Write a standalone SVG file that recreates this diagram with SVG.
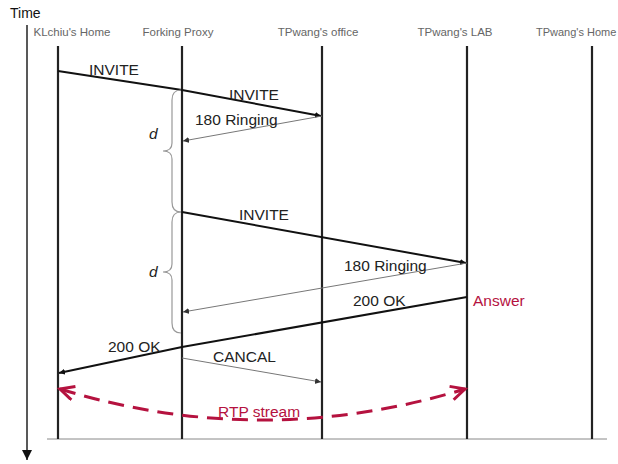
<svg xmlns="http://www.w3.org/2000/svg" width="618" height="464" viewBox="0 0 618 464">
<style>
.hdr{font-family:"Liberation Sans",Arial,sans-serif;font-size:11.5px;fill:#666}
.lbl{font-family:"Liberation Sans",Arial,sans-serif;font-size:15.5px;fill:#222}
.red{fill:#b5123f}
.life{stroke:#222;stroke-width:2.2}
.thick{stroke:#111;stroke-width:2;fill:none}
.thin{stroke:#777;stroke-width:1;fill:none}
.brace{stroke:#999;stroke-width:1.2;fill:none}
</style>
<defs>
<marker id="ah" markerUnits="userSpaceOnUse" markerWidth="8" markerHeight="8" refX="6" refY="3" orient="auto"><path d="M0,0 L6,3 L0,6 z" fill="#111"/></marker>
<marker id="ahs" markerUnits="userSpaceOnUse" markerWidth="8" markerHeight="8" refX="6" refY="3" orient="auto"><path d="M0,0 L6,3 L0,6 z" fill="#333"/></marker>
<marker id="ta" markerUnits="userSpaceOnUse" markerWidth="12" markerHeight="12" refX="10" refY="5" orient="auto"><path d="M0,0 L10,5 L0,10 z" fill="#111"/></marker>
<marker id="rtp" markerUnits="userSpaceOnUse" markerWidth="20" markerHeight="20" refX="15" refY="8" orient="auto-start-reverse"><path d="M1,1 L15,8 L1,15" fill="none" stroke="#b5123f" stroke-width="3"/></marker>
</defs>
<rect width="618" height="464" fill="#fff"/>
<g id="time-axis">
<text x="10" y="18" font-family="Liberation Sans,Arial,sans-serif" font-size="14" fill="#111">Time</text>
<line x1="27" y1="25" x2="27" y2="460" stroke="#222" stroke-width="1.5" marker-end="url(#ta)"/>
</g>
<line x1="47" y1="439" x2="607" y2="439" stroke="#888" stroke-width="1"/>
<g id="klchiu"><text class="hdr" x="72" y="36" text-anchor="middle">KLchiu's Home</text><line class="life" x1="58" y1="46" x2="58" y2="439"/></g>
<g id="proxy"><text class="hdr" x="178" y="36" text-anchor="middle">Forking Proxy</text><line class="life" x1="182" y1="46" x2="182" y2="439"/></g>
<g id="office"><text class="hdr" x="318" y="36" text-anchor="middle">TPwang's office</text><line class="life" x1="322" y1="46" x2="322" y2="439"/></g>
<g id="lab"><text class="hdr" x="455" y="36" text-anchor="middle">TPwang's LAB</text><line class="life" x1="467" y1="46" x2="467" y2="439"/></g>
<g id="home"><text class="hdr" x="536" y="36" style="font-size:11px">TPwang's Home</text><line class="life" x1="592" y1="46" x2="592" y2="439"/></g>
<g id="connectors">
<line class="thick" x1="58" y1="71" x2="182" y2="90"/>
<line class="thick" x1="182" y1="90" x2="321" y2="116" marker-end="url(#ah)"/>
<line class="thin" x1="322" y1="116" x2="183" y2="141" marker-end="url(#ahs)"/>
<line class="thick" x1="182" y1="212" x2="466" y2="263" marker-end="url(#ah)"/>
<line class="thin" x1="467" y1="263" x2="183" y2="312" marker-end="url(#ahs)"/>
<line class="thick" x1="467" y1="297" x2="182" y2="347"/>
<line class="thick" x1="182" y1="347" x2="59" y2="373" marker-end="url(#ah)"/>
<line class="thin" x1="182" y1="358" x2="321" y2="382" marker-end="url(#ahs)"/>
<path d="M60,389 Q262,451 465,389" fill="none" stroke="#b5123f" stroke-width="3" stroke-dasharray="16,9" marker-start="url(#rtp)" marker-end="url(#rtp)"/>
</g>
<g id="braces">
<path class="brace" d="M181,90 C174,90 172,94 172,100 L172,143 C172,148 169,151 163,151 C169,151 172,154 172,159 L172,202 C172,208 174,212 181,212"/>
<path class="brace" d="M181,212 C174,212 172,216 172,222 L172,264 C172,269 169,272 163,272 C169,272 172,275 172,280 L172,323 C172,329 174,333 181,333"/>
<text class="lbl" x="149" y="139" font-style="italic">d</text>
<text class="lbl" x="149" y="277" font-style="italic">d</text>
</g>
<g id="labels">
<text class="lbl" x="89" y="75">INVITE</text>
<text class="lbl" x="229" y="100">INVITE</text>
<text class="lbl" x="195" y="125">180 Ringing</text>
<text class="lbl" x="239" y="220">INVITE</text>
<text class="lbl" x="344" y="271">180 Ringing</text>
<text class="lbl" x="353" y="306">200 OK</text>
<text class="lbl red" x="473" y="306">Answer</text>
<text class="lbl" x="108" y="352">200 OK</text>
<text class="lbl" x="213" y="362">CANCAL</text>
<text class="lbl red" x="218" y="417">RTP stream</text>
</g>
</svg>
